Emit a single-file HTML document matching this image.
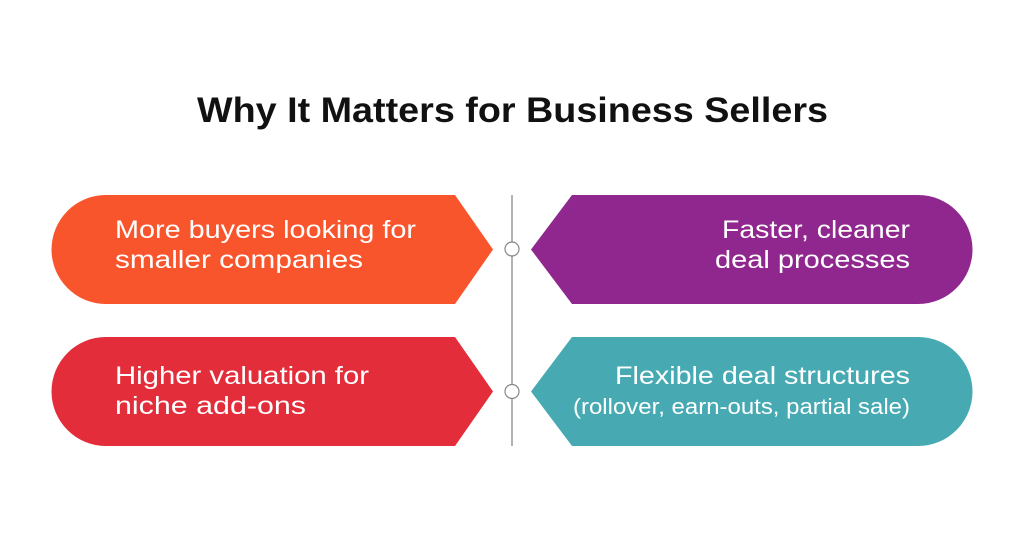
<!DOCTYPE html>
<html><head><style>
body{margin:0;width:1024px;height:538px;background:#fff;overflow:hidden}
</style></head><body>
<svg width="1024" height="538" viewBox="0 0 1024 538" xmlns="http://www.w3.org/2000/svg" font-family="Liberation Sans, sans-serif">
<text x="197" y="122" font-size="35" font-weight="bold" fill="#111" textLength="631" lengthAdjust="spacingAndGlyphs">Why It Matters for Business Sellers</text>
<line x1="512" y1="195" x2="512" y2="446" stroke="#999" stroke-width="1.5"/>
<path d="M106,195 H455 L493,249.5 L455,304 H106 A54.5,54.5 0 0 1 106,195Z" fill="#F9552C"/>
<path d="M106,337 H455 L493,391.5 L455,446 H106 A54.5,54.5 0 0 1 106,337Z" fill="#E32D3A"/>
<path d="M918,195 H572 L531,249.5 L572,304 H918 A54.5,54.5 0 0 0 918,195Z" fill="#90278E"/>
<path d="M918,337 H572 L531,391.5 L572,446 H918 A54.5,54.5 0 0 0 918,337Z" fill="#47AAB3"/>
<circle cx="512" cy="249" r="7" fill="#fff" stroke="#888" stroke-width="1.2"/>
<circle cx="512" cy="391.5" r="7" fill="#fff" stroke="#888" stroke-width="1.2"/>
<g fill="#fff" font-size="25" lengthAdjust="spacingAndGlyphs">
<text x="115" y="238" textLength="301" lengthAdjust="spacingAndGlyphs">More buyers looking for</text>
<text x="115" y="268" textLength="248" lengthAdjust="spacingAndGlyphs">smaller companies</text>
<text x="115" y="384" textLength="254" lengthAdjust="spacingAndGlyphs">Higher valuation for</text>
<text x="115" y="414" textLength="191" lengthAdjust="spacingAndGlyphs">niche add-ons</text>
<text x="722" y="238" textLength="188" lengthAdjust="spacingAndGlyphs">Faster, cleaner</text>
<text x="715" y="268" textLength="195" lengthAdjust="spacingAndGlyphs">deal processes</text>
<text x="615" y="384" textLength="295" lengthAdjust="spacingAndGlyphs">Flexible deal structures</text>
<text x="573" y="414" font-size="22" textLength="337" lengthAdjust="spacingAndGlyphs">(rollover, earn-outs, partial sale)</text>
</g>
</svg>
</body></html>
